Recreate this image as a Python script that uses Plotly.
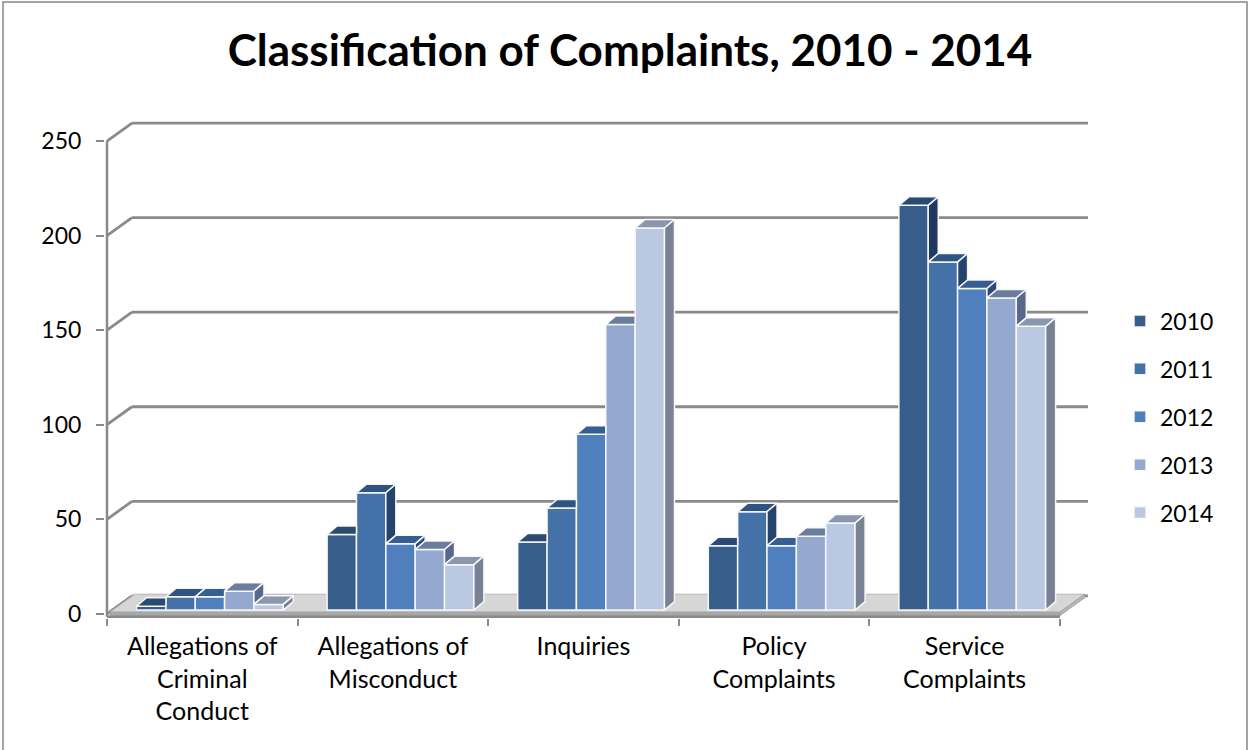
import plotly.graph_objects as go

# ---------------- data ----------------
categories = ["Allegations of<br>Criminal<br>Conduct", "Allegations of<br>Misconduct",
              "Inquiries", "Policy<br>Complaints", "Service<br>Complaints"]
years = ["2010", "2011", "2012", "2013", "2014"]
values_2010 = [2, 40, 36, 34, 214]
values_2011 = [7, 62, 54, 52, 184]
values_2012 = [7, 35, 93, 34, 170]
values_2013 = [10, 32, 151, 39, 165]
values_2014 = [3, 24, 202, 46, 150]
y_ticks = [0, 50, 100, 150, 200, 250]

series = [values_2010, values_2011, values_2012, values_2013, values_2014]

# ---------------- style ----------------
front_colors = ["#375E8B", "#4571A9", "#4F80BD", "#95A9D0", "#BAC8E1"]
top_colors = ["#2A4A72", "#2F5484", "#355E92", "#6B7D9E", "#8A97AF"]
side_colors = ["#1F3A5E", "#25446C", "#2B4C78", "#58678A", "#788295"]
grid_color = "#8A8A8A"
edge = dict(color="rgba(250,250,250,0.95)", width=1.5)
FONT = "Lato"

# pseudo-3D geometry (axis units)
GROUP_LEFT = 0.155
BAR_W = 0.154
BASE = 2.0
DXB, DYB = 0.0525, 4.5      # bar depth offset
DX, DY = 0.131, 9.5         # wall depth offset
X_RANGE = [-0.0105, 5.184]
Y_RANGE = [-2.2, 266.4]
ML, MR, MT, MB = 105, 156, 110, 132
W, H = 1251, 750

fig = go.Figure()

# front faces as real bars
for j, (yr, vals) in enumerate(zip(years, series)):
    xs = [i + GROUP_LEFT + j * BAR_W + BAR_W / 2 for i in range(len(categories))]
    fig.add_trace(go.Bar(
        x=xs, y=vals, base=BASE, width=BAR_W, name=yr, legendgroup=yr,
        marker=dict(color=front_colors[j], line=edge),
        hovertemplate=yr + ": %{y}<extra></extra>"))


def top_face(x0, x1, top, T):
    P = [(x0, top), (x1, top), (x1 + DXB, top + DYB), (x0 + DXB, top + DYB)]
    if T is None or T <= top:
        return P
    if T >= top + DYB:
        return [(x0, top), (x1, top), (x1, top + DYB), (x0 + DXB, top + DYB)]
    xa = x1 + (top + DYB - T) * DXB / DYB
    return [(x0, top), (x1, top), (x1, T), (xa, top + DYB), (x0 + DXB, top + DYB)]


def side_face(x1, top, T):
    h = BASE if T is None else max(BASE, T)
    if h >= top:
        return None
    return [(x1, h), (x1, top), (x1 + DXB, top + DYB), (x1 + DXB, h + DYB)]


def add_polys(polys, color):
    px, py = [], []
    for P in polys:
        if not P:
            continue
        for (a, b) in P + [P[0]]:
            px.append(a)
            py.append(b)
        px.append(None)
        py.append(None)
    fig.add_trace(go.Scatter(x=px, y=py, mode="lines", fill="toself", fillcolor=color,
                             line=edge, hoverinfo="skip", showlegend=False))


for j, vals in enumerate(series):
    tops, sides = [], []
    for i, v in enumerate(vals):
        x0 = i + GROUP_LEFT + j * BAR_W
        x1 = x0 + BAR_W
        top = BASE + v
        T = BASE + series[j + 1][i] if j < len(series) - 1 else None
        tops.append(top_face(x0, x1, top, T))
        sides.append(side_face(x1, top, T))
    add_polys(tops, top_colors[j])
    add_polys(sides, side_colors[j])

# back wall grid lines, axis lines and floor as shapes below the traces
shapes = []
x_end = len(categories) + DX + 0.016
for v in y_ticks:
    shapes.append(dict(type="line", xref="x", yref="y", x0=0, y0=v, x1=DX, y1=v + DY,
                       line=dict(color=grid_color, width=2.8), layer="below"))
    shapes.append(dict(type="line", xref="x", yref="y", x0=DX, y0=v + DY, x1=x_end, y1=v + DY,
                       line=dict(color=grid_color, width=2.8), layer="below"))

n = len(categories)
fl, fr, ft, fb = 0.016, float(n), 0.9, -0.9
shapes.append(dict(type="path", xref="x", yref="y", layer="below",
                   path=f"M{fl},{ft} L{fr},{ft} L{fr + DX},{ft + DY} L{fl + DX},{ft + DY} Z",
                   fillcolor="#D6D6D6", line=dict(color="#BDBDBD", width=1)))
shapes.append(dict(type="path", xref="x", yref="y", layer="below",
                   path=f"M{fl},{fb} L{fr},{fb} L{fr},{ft} L{fl},{ft} Z",
                   fillcolor="#A8A8A8", line=dict(color="#A0A0A0", width=1)))
shapes.append(dict(type="path", xref="x", yref="y", layer="below",
                   path=f"M{fr},{fb} L{fr + DX},{fb + DY} L{fr + DX},{ft + DY} L{fr},{ft} Z",
                   fillcolor="#B8B8B8", line=dict(color="#A0A0A0", width=1)))
# front axis lines
shapes.append(dict(type="line", xref="x", yref="y", x0=0, y0=-1.6, x1=0, y1=y_ticks[-1],
                   line=dict(color=grid_color, width=2.5), layer="below"))
shapes.append(dict(type="line", xref="x", yref="y", x0=0, y0=-1.6, x1=n, y1=-1.6,
                   line=dict(color=grid_color, width=2.5), layer="below"))

# outer chart border
pw, ph = W - ML - MR, H - MT - MB
shapes.append(dict(type="rect", xref="paper", yref="paper",
                   x0=(3 - ML) / pw, x1=(1247 - ML) / pw,
                   y0=(H - MB - 760) / ph, y1=(H - MB - 2) / ph,
                   line=dict(color="#868686", width=1.5), fillcolor="rgba(0,0,0,0)", layer="above"))

fig.update_layout(
    width=W, height=H,
    margin=dict(l=ML, r=MR, t=MT, b=MB),
    paper_bgcolor="white", plot_bgcolor="white",
    barmode="overlay",
    font=dict(family=FONT, color="black"),
    title=dict(text="<b>Classification of Complaints, 2010 - 2014</b>",
               x=630 / W, xref="container", xanchor="center",
               y=1 - 51 / H, yref="container", yanchor="middle",
               font=dict(size=44, family=FONT, color="black")),
    xaxis=dict(range=X_RANGE, tickvals=[i + 0.5 for i in range(n)], ticktext=categories,
               ticks="", showgrid=False, zeroline=False, showline=False,
               tickfont=dict(size=25, family=FONT, color="black"),
               ticklabelstandoff=11,
               minor=dict(tickvals=list(range(n + 1)), ticks="outside", ticklen=7,
                          tickcolor=grid_color, tickwidth=2, showgrid=False)),
    yaxis=dict(range=Y_RANGE, tickvals=y_ticks, ticks="outside", ticklen=8,
               tickcolor=grid_color, tickwidth=2, showgrid=False, zeroline=False,
               showline=False, tickfont=dict(size=23, family=FONT, color="black"),
               ticklabelstandoff=10),
    legend=dict(x=(1120 - ML) / pw, xanchor="left", y=(H - MB - 417) / ph, yanchor="middle",
                traceorder="grouped", tracegroupgap=15,
                font=dict(size=23, family=FONT, color="black"), bgcolor="rgba(0,0,0,0)"),
    shapes=shapes,
    showlegend=True,
)

fig.write_html("out.html")
